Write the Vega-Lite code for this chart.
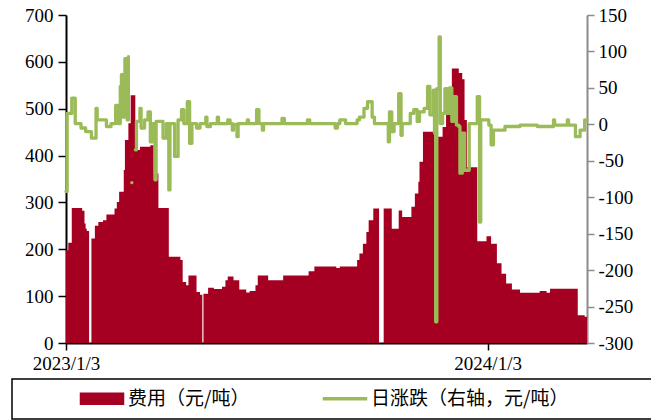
{
  "$schema": "https://vega.github.io/schema/vega-lite/v6.json",
  "width": 521,
  "height": 328,
  "autosize": {"type": "none"},
  "padding": {"left": 66, "top": 15, "right": 64, "bottom": 77},
  "background": "white",
  "config": {
    "view": {"stroke": null},
    "axis": {"labelFont": "Liberation Serif", "labelFontSize": 19, "labelColor": "#000000", "grid": false, "title": null, "domainWidth": 2, "tickWidth": 1.5}
  },
  "datasets": {
    "fee": [
      {"date": "2023-01-03", "fee": 198}, {"date": "2023-01-05", "fee": 214}, {"date": "2023-01-08", "fee": 288},
      {"date": "2023-01-17", "fee": 282}, {"date": "2023-01-19", "fee": 255}, {"date": "2023-01-20", "fee": 244},
      {"date": "2023-01-21", "fee": 239}, {"date": "2023-01-23", "fee": 0}, {"date": "2023-01-25", "fee": 223},
      {"date": "2023-01-28", "fee": 250}, {"date": "2023-01-31", "fee": 258}, {"date": "2023-02-04", "fee": 262},
      {"date": "2023-02-07", "fee": 274}, {"date": "2023-02-14", "fee": 287}, {"date": "2023-02-16", "fee": 301},
      {"date": "2023-02-18", "fee": 323}, {"date": "2023-02-22", "fee": 369}, {"date": "2023-02-23", "fee": 433},
      {"date": "2023-02-26", "fee": 469}, {"date": "2023-02-28", "fee": 529}, {"date": "2023-03-04", "fee": 412},
      {"date": "2023-03-08", "fee": 419}, {"date": "2023-03-17", "fee": 422}, {"date": "2023-03-20", "fee": 362},
      {"date": "2023-03-24", "fee": 288}, {"date": "2023-04-02", "fee": 184}, {"date": "2023-04-12", "fee": 177},
      {"date": "2023-04-14", "fee": 130}, {"date": "2023-04-17", "fee": 123}, {"date": "2023-04-19", "fee": 144},
      {"date": "2023-04-26", "fee": 109}, {"date": "2023-04-29", "fee": 103}, {"date": "2023-05-01", "fee": 0},
      {"date": "2023-05-02", "fee": 105}, {"date": "2023-05-06", "fee": 118}, {"date": "2023-05-11", "fee": 115},
      {"date": "2023-05-18", "fee": 120}, {"date": "2023-05-21", "fee": 134}, {"date": "2023-05-23", "fee": 142},
      {"date": "2023-05-28", "fee": 134}, {"date": "2023-06-02", "fee": 114}, {"date": "2023-06-08", "fee": 108},
      {"date": "2023-06-11", "fee": 111}, {"date": "2023-06-16", "fee": 123}, {"date": "2023-06-18", "fee": 144},
      {"date": "2023-06-27", "fee": 134}, {"date": "2023-07-10", "fee": 144}, {"date": "2023-08-01", "fee": 153},
      {"date": "2023-08-06", "fee": 163}, {"date": "2023-08-25", "fee": 160}, {"date": "2023-08-28", "fee": 163},
      {"date": "2023-09-12", "fee": 177}, {"date": "2023-09-14", "fee": 191}, {"date": "2023-09-17", "fee": 212},
      {"date": "2023-09-20", "fee": 237}, {"date": "2023-09-22", "fee": 262}, {"date": "2023-09-26", "fee": 287},
      {"date": "2023-10-01", "fee": 0}, {"date": "2023-10-05", "fee": 287}, {"date": "2023-10-12", "fee": 244},
      {"date": "2023-10-18", "fee": 283}, {"date": "2023-10-21", "fee": 269}, {"date": "2023-10-29", "fee": 291},
      {"date": "2023-11-01", "fee": 319}, {"date": "2023-11-04", "fee": 344}, {"date": "2023-11-05", "fee": 387},
      {"date": "2023-11-08", "fee": 451}, {"date": "2023-11-21", "fee": 440}, {"date": "2023-11-25", "fee": 461},
      {"date": "2023-11-28", "fee": 497}, {"date": "2023-12-03", "fee": 586}, {"date": "2023-12-09", "fee": 576},
      {"date": "2023-12-12", "fee": 563}, {"date": "2023-12-14", "fee": 476}, {"date": "2023-12-16", "fee": 375},
      {"date": "2023-12-25", "fee": 217}, {"date": "2024-01-02", "fee": 228}, {"date": "2024-01-06", "fee": 212},
      {"date": "2024-01-11", "fee": 170}, {"date": "2024-01-15", "fee": 148}, {"date": "2024-01-19", "fee": 127},
      {"date": "2024-01-24", "fee": 114}, {"date": "2024-01-31", "fee": 107}, {"date": "2024-02-17", "fee": 111},
      {"date": "2024-02-23", "fee": 107}, {"date": "2024-02-26", "fee": 116}, {"date": "2024-03-21", "fee": 59},
      {"date": "2024-03-27", "fee": 56}, {"date": "2024-03-29", "fee": 56}
    ],
    "chg": [
      {"date": "2023-01-03", "chg": -92}, {"date": "2023-01-04", "chg": 15}, {"date": "2023-01-08", "chg": 36},
      {"date": "2023-01-11", "chg": 1}, {"date": "2023-01-16", "chg": -5}, {"date": "2023-01-20", "chg": -10},
      {"date": "2023-01-25", "chg": -19}, {"date": "2023-01-29", "chg": 22}, {"date": "2023-01-30", "chg": 6},
      {"date": "2023-02-07", "chg": -3}, {"date": "2023-02-11", "chg": 1}, {"date": "2023-02-15", "chg": 26},
      {"date": "2023-02-17", "chg": 1}, {"date": "2023-02-19", "chg": 52}, {"date": "2023-02-20", "chg": 68},
      {"date": "2023-02-21", "chg": 10}, {"date": "2023-02-23", "chg": 90}, {"date": "2023-02-25", "chg": 6},
      {"date": "2023-02-26", "chg": 93}, {"date": "2023-02-27", "chg": null}, {"date": "2023-03-01", "chg": -80},
      {"date": "2023-03-02", "chg": null}, {"date": "2023-03-04", "chg": -35}, {"date": "2023-03-05", "chg": 4},
      {"date": "2023-03-08", "chg": 22}, {"date": "2023-03-09", "chg": -5}, {"date": "2023-03-12", "chg": 6},
      {"date": "2023-03-15", "chg": 17}, {"date": "2023-03-17", "chg": -24}, {"date": "2023-03-19", "chg": 1},
      {"date": "2023-03-21", "chg": -76}, {"date": "2023-03-22", "chg": 4}, {"date": "2023-03-28", "chg": -19},
      {"date": "2023-03-31", "chg": 1}, {"date": "2023-04-02", "chg": -90}, {"date": "2023-04-03", "chg": 1},
      {"date": "2023-04-07", "chg": -44}, {"date": "2023-04-10", "chg": 6}, {"date": "2023-04-13", "chg": 20},
      {"date": "2023-04-15", "chg": 1}, {"date": "2023-04-18", "chg": 31}, {"date": "2023-04-20", "chg": -26},
      {"date": "2023-04-22", "chg": 1}, {"date": "2023-04-26", "chg": -5}, {"date": "2023-04-29", "chg": 1},
      {"date": "2023-05-04", "chg": 10}, {"date": "2023-05-05", "chg": -3}, {"date": "2023-05-08", "chg": 1},
      {"date": "2023-05-14", "chg": 10}, {"date": "2023-05-15", "chg": 1}, {"date": "2023-05-23", "chg": 6},
      {"date": "2023-05-25", "chg": 1}, {"date": "2023-05-27", "chg": -8}, {"date": "2023-05-28", "chg": 0},
      {"date": "2023-05-31", "chg": -17}, {"date": "2023-06-01", "chg": 1}, {"date": "2023-06-09", "chg": 6},
      {"date": "2023-06-10", "chg": 1}, {"date": "2023-06-17", "chg": 20}, {"date": "2023-06-19", "chg": 1},
      {"date": "2023-06-22", "chg": -8}, {"date": "2023-06-23", "chg": 1}, {"date": "2023-07-09", "chg": 8},
      {"date": "2023-07-11", "chg": 1}, {"date": "2023-07-31", "chg": 6}, {"date": "2023-08-02", "chg": 1},
      {"date": "2023-08-24", "chg": -5}, {"date": "2023-08-26", "chg": 1}, {"date": "2023-08-28", "chg": 6},
      {"date": "2023-09-02", "chg": 1}, {"date": "2023-09-12", "chg": 6}, {"date": "2023-09-14", "chg": 10},
      {"date": "2023-09-18", "chg": 22}, {"date": "2023-09-21", "chg": 31}, {"date": "2023-09-25", "chg": 10},
      {"date": "2023-09-27", "chg": 1}, {"date": "2023-10-09", "chg": -24}, {"date": "2023-10-10", "chg": 17},
      {"date": "2023-10-12", "chg": -10}, {"date": "2023-10-14", "chg": 1}, {"date": "2023-10-18", "chg": 42},
      {"date": "2023-10-20", "chg": -15}, {"date": "2023-10-21", "chg": 1}, {"date": "2023-10-28", "chg": 15},
      {"date": "2023-10-31", "chg": 20}, {"date": "2023-11-03", "chg": 4}, {"date": "2023-11-05", "chg": 17},
      {"date": "2023-11-09", "chg": 22}, {"date": "2023-11-12", "chg": 52}, {"date": "2023-11-14", "chg": 13},
      {"date": "2023-11-17", "chg": 47}, {"date": "2023-11-18", "chg": -12}, {"date": "2023-11-19", "chg": -271},
      {"date": "2023-11-20", "chg": 49}, {"date": "2023-11-22", "chg": 120}, {"date": "2023-11-23", "chg": 1},
      {"date": "2023-11-25", "chg": 15}, {"date": "2023-11-27", "chg": 49}, {"date": "2023-11-29", "chg": 15},
      {"date": "2023-12-01", "chg": 50}, {"date": "2023-12-03", "chg": 4}, {"date": "2023-12-05", "chg": 38},
      {"date": "2023-12-07", "chg": -1}, {"date": "2023-12-09", "chg": -3}, {"date": "2023-12-10", "chg": -67},
      {"date": "2023-12-12", "chg": -12}, {"date": "2023-12-14", "chg": -63}, {"date": "2023-12-18", "chg": 1},
      {"date": "2023-12-25", "chg": 38}, {"date": "2023-12-27", "chg": -134}, {"date": "2023-12-28", "chg": 6},
      {"date": "2024-01-04", "chg": -1}, {"date": "2024-01-06", "chg": -28}, {"date": "2024-01-08", "chg": -8},
      {"date": "2024-01-18", "chg": -3}, {"date": "2024-01-31", "chg": -1}, {"date": "2024-02-15", "chg": -3},
      {"date": "2024-02-29", "chg": 6}, {"date": "2024-03-01", "chg": -1}, {"date": "2024-03-12", "chg": 6},
      {"date": "2024-03-13", "chg": -1}, {"date": "2024-03-19", "chg": -17}, {"date": "2024-03-23", "chg": -8},
      {"date": "2024-03-27", "chg": 6}, {"date": "2024-03-29", "chg": 6}
    ]
  },
  "layer": [
    {
      "data": {"name": "fee"},
      "mark": {"type": "area", "interpolate": "step-after"},
      "encoding": {
        "x": {
          "field": "date", "type": "temporal",
          "scale": {"type": "utc", "domain": [{"year": 2023, "month": 1, "date": 3, "utc": true}, {"year": 2024, "month": 3, "date": 29, "utc": true}]},
          "axis": {
            "values": [{"year": 2023, "month": 1, "date": 3, "utc": true}, {"year": 2024, "month": 1, "date": 3, "utc": true}],
            "format": "%Y/%-m/%-d", "labelFlush": false, "labelOverlap": false, "tickSize": 7, "labelPadding": 4,
            "domainColor": "#000000", "tickColor": "#000000"
          }
        },
        "y": {
          "field": "fee", "type": "quantitative",
          "scale": {"domain": [0, 700], "nice": false},
          "axis": {"orient": "left", "values": [0, 100, 200, 300, 400, 500, 600, 700], "tickSize": 8, "labelPadding": 5, "domainColor": "#000000", "tickColor": "#000000"}
        },
        "color": {
          "datum": "费用（元/吨）", "type": "nominal",
          "scale": {"domain": ["费用（元/吨）", "日涨跌（右轴，元/吨）"], "range": ["#a50021", "#9bbb59"]},
          "legend": {
            "orient": "none", "legendX": -54, "legendY": 364, "direction": "horizontal",
            "title": "国国国", "titleOrient": "left", "titleFontSize": 18, "titleFont": "Noto Sans CJK SC", "titlePadding": 4, "titleColor": "rgba(0,0,0,0)",
            "labelFont": "Noto Sans CJK SC", "labelFontSize": 19, "labelColor": "#000000", "labelOffset": 29, "labelLimit": 400,
            "labelExpr": "datum.value == '日涨跌（右轴，元/吨）' ? datum.label + '⠀⠀⠀⠀⠀⠀' : datum.label",
            "symbolSize": 100, "columnPadding": 70, "padding": 10, "strokeColor": "#000000",
            "encode": {
              "legend": {"update": {"strokeWidth": {"value": 1.5}}},
              "symbols": {"update": {
                "shape": {"signal": "datum.value == '费用（元/吨）' ? 'M-1.8,-1.1H6.8V1.1H-1.8Z' : 'M-1.8,-0.2H6.8V0.2H-1.8Z'"},
                "fill": {"signal": "datum.value == '费用（元/吨）' ? '#c9545c' : '#9bbb59'"},
                "stroke": {"signal": "datum.value == '费用（元/吨）' ? '#a50021' : '#9bbb59'"},
                "strokeWidth": {"value": 1.5},
                "opacity": {"value": 1}
              }}
            }
          }
        }
      }
    },
    {
      "data": {"name": "chg"},
      "mark": {"type": "line", "interpolate": "step-after", "strokeWidth": 3.3, "strokeJoin": "round", "strokeCap": "round"},
      "encoding": {
        "x": {"field": "date", "type": "temporal"},
        "y": {
          "field": "chg", "type": "quantitative",
          "scale": {"domain": [-300, 150], "nice": false},
          "axis": {"orient": "right", "values": [-300, -250, -200, -150, -100, -50, 0, 50, 100, 150], "labelExpr": "'' + datum.value", "tickSize": 7, "labelPadding": 4, "domainColor": "#8c8c8c", "tickColor": "#8c8c8c"}
        },
        "color": {"datum": "日涨跌（右轴，元/吨）", "type": "nominal"}
      }
    }
  ],
  "resolve": {"scale": {"y": "independent"}}
}
